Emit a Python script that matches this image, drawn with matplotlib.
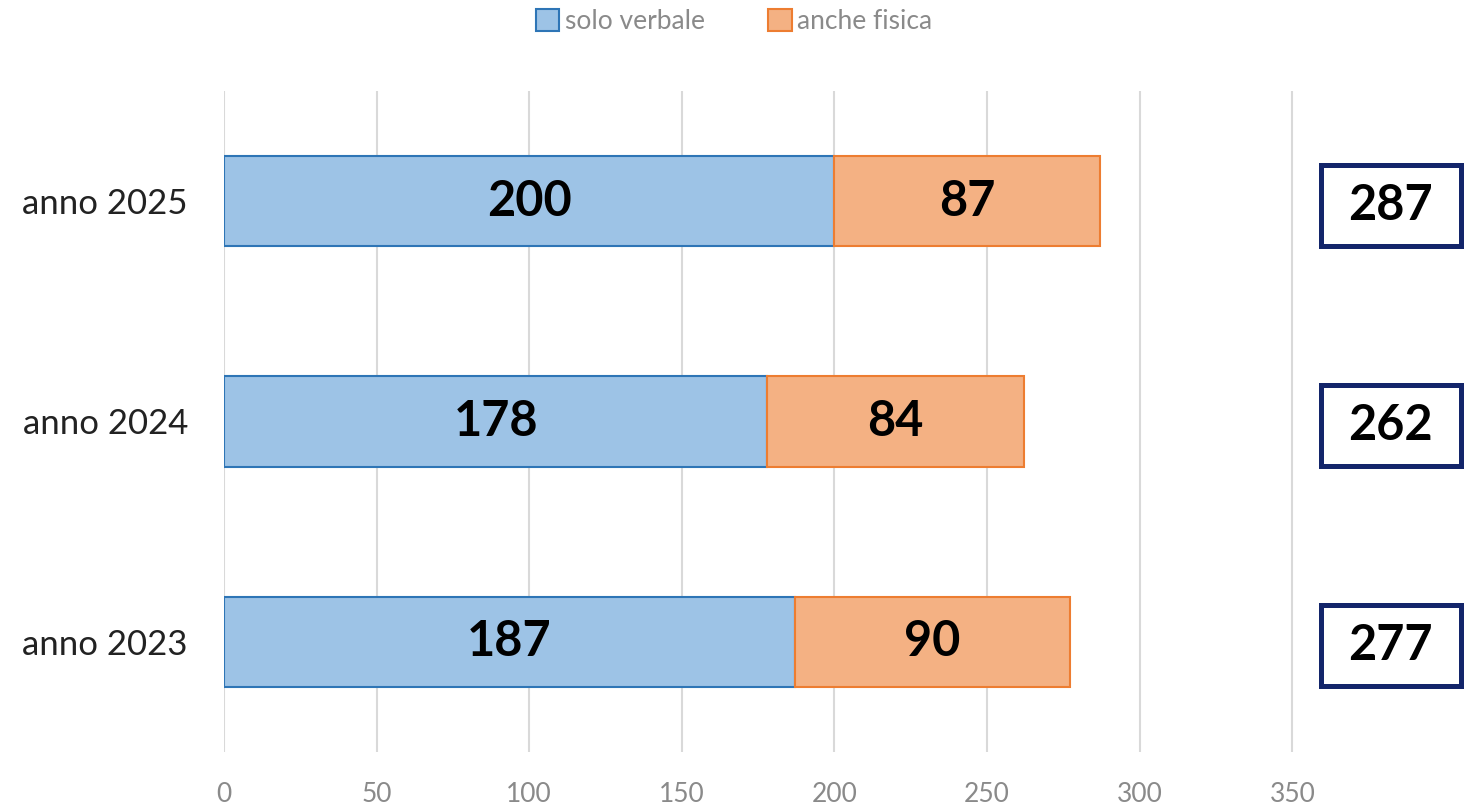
import matplotlib.pyplot as plt
from matplotlib.patches import Rectangle
import numpy as np

plt.rcParams['font.family'] = ['Lato', 'DejaVu Sans']

categorie = ["anno 2023", "anno 2024", "anno 2025"]
solo_verbale = [187, 178, 200]
anche_fisica = [90, 84, 87]
totali = [277, 262, 287]
tick_x = [0, 50, 100, 150, 200, 250, 300, 350]

blu, blu_bordo = "#9dc3e6", "#2e75b6"
arancio, arancio_bordo = "#f4b183", "#ed7d31"
navy = "#13256a"

fig = plt.figure(figsize=(14.68, 8.05), dpi=100)
ax = fig.add_axes([0.1526, 0.066, 0.8317, 0.821])

y = np.arange(len(categorie))
h = 0.41
b1 = ax.barh(y, solo_verbale, height=h, color=blu, edgecolor=blu_bordo, linewidth=1.5,
             label="solo verbale", zorder=3)
b2 = ax.barh(y, anche_fisica, left=solo_verbale, height=h, color=arancio,
             edgecolor=arancio_bordo, linewidth=1.5, label="anche fisica", zorder=3)

for i in range(len(categorie)):
    ax.text(solo_verbale[i] / 2, y[i], str(solo_verbale[i]), ha="center", va="center",
            fontsize=35, fontweight="bold", color="black", zorder=4)
    ax.text(solo_verbale[i] + anche_fisica[i] / 2, y[i], str(anche_fisica[i]), ha="center",
            va="center", fontsize=35, fontweight="bold", color="black", zorder=4)
    # riquadro con il totale
    cx, cy = 382.2, y[i] - 0.018
    w, hh = 45.9, 0.367
    ax.add_patch(Rectangle((cx - w / 2, cy - hh / 2), w, hh, facecolor="white",
                           edgecolor=navy, linewidth=3.6, zorder=3, clip_on=False))
    ax.text(cx, cy, str(totali[i]), ha="center", va="center", fontsize=35,
            fontweight="bold", color="black", zorder=4)

ax.set_xlim(0, 400)
ax.set_ylim(-0.5, 2.5)
ax.set_xticks(tick_x)
ax.set_yticks(y)
ax.set_yticklabels(categorie, fontsize=25, color="#222222")
ax.tick_params(axis="x", labelsize=19, labelcolor="#8a8a8a", length=0, pad=22)
ax.tick_params(axis="y", length=0, pad=26)
ax.grid(axis="x", color="#d9d9d9", linewidth=1.5, zorder=0)
for s in ax.spines.values():
    s.set_visible(False)

fig.legend(handles=[b1, b2], loc="upper center", bbox_to_anchor=(0.5, 1.018), ncol=2,
           frameon=False, fontsize=19, labelcolor="#8a8a8a", handlelength=0.9,
           handleheight=0.9, handletextpad=0.2, columnspacing=2.4)

fig.savefig("out.png", dpi=100)
